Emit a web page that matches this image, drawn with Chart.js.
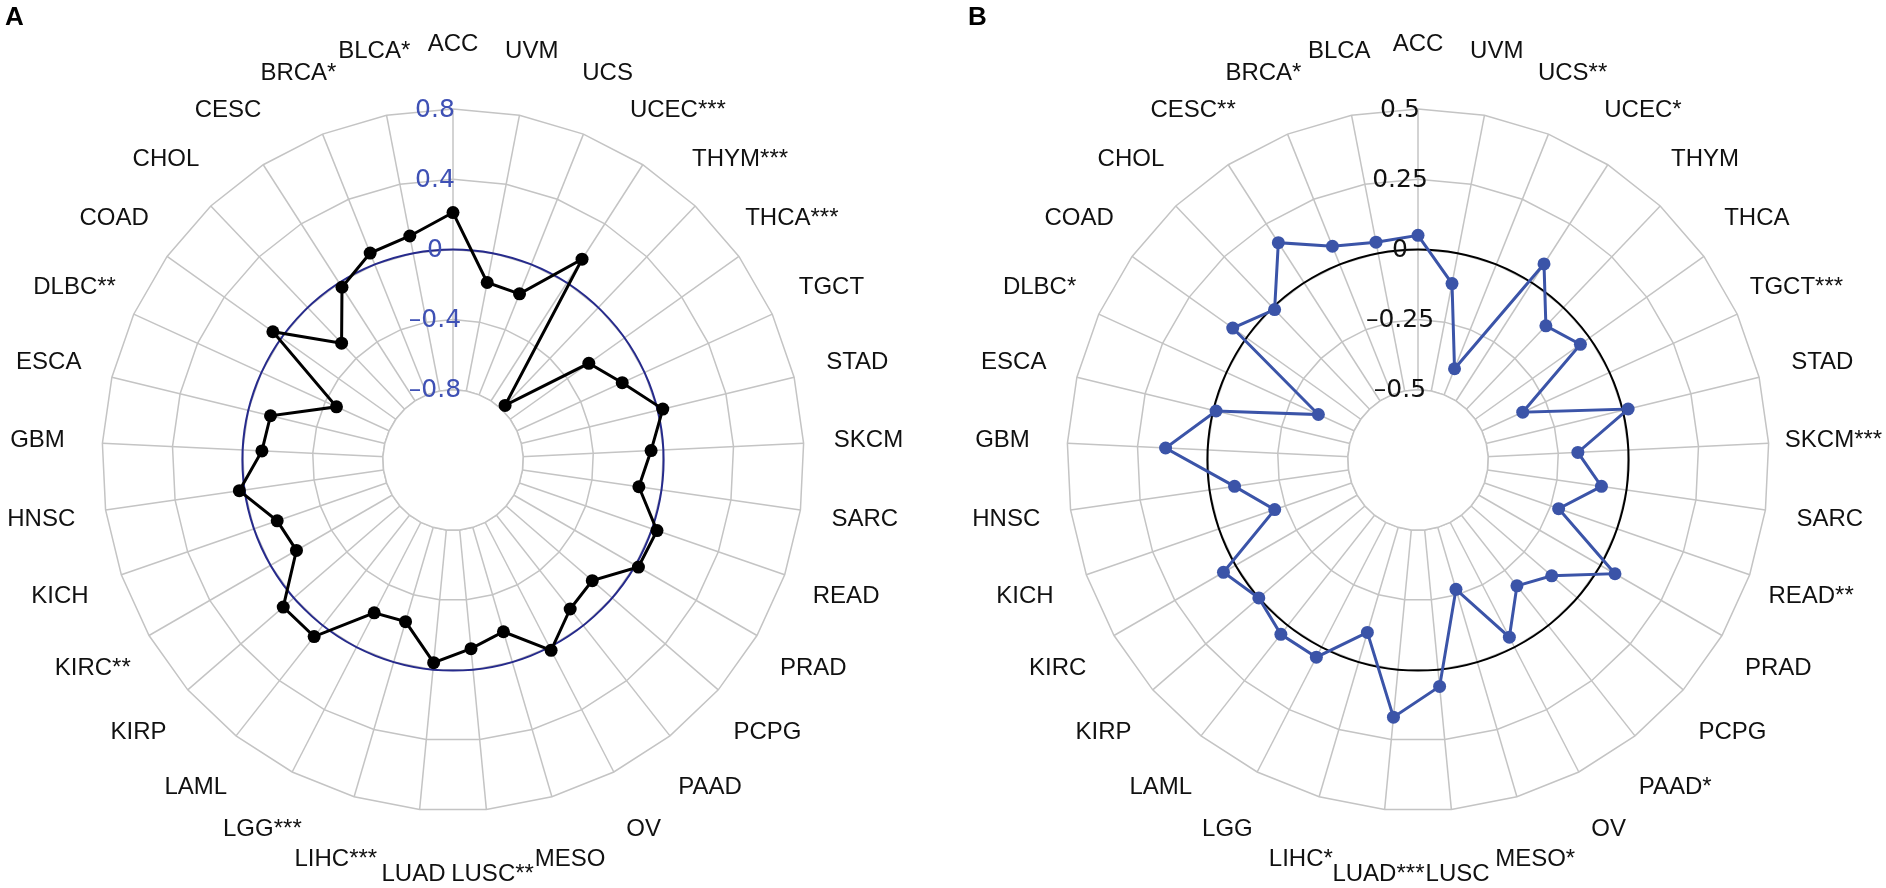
<!DOCTYPE html>
<html>
<head>
<meta charset="utf-8">
<title>Radar panels A / B</title>
<script src="https://cdn.jsdelivr.net/npm/chart.js@4.4.1/dist/chart.umd.min.js"></script>
<style>
  html, body { margin: 0; padding: 0; background: #fff; }
  #wrap { position: relative; width: 1886px; height: 888px; overflow: hidden; }
  .panel { position: absolute; top: 0; width: 943px; height: 888px; }
  .tag { position: absolute; top: 1px; font: bold 26px "Liberation Sans", Arial, sans-serif; color: #000; }
</style>
</head>
<body>
<div id="wrap">
  <div class="panel" style="left:0"><canvas id="chartA" width="943" height="888"></canvas></div>
  <div class="panel" style="left:943px"><canvas id="chartB" width="943" height="888"></canvas></div>
  <div class="tag" style="left:5px">A</div>
  <div class="tag" style="left:968px">B</div>
</div>
<script>
// categories clockwise from the top
const LABELS_A = ["ACC", "UVM", "UCS", "UCEC***", "THYM***", "THCA***", "TGCT", "STAD", "SKCM", "SARC", "READ",
  "PRAD", "PCPG", "PAAD", "OV", "MESO", "LUSC**", "LUAD", "LIHC***", "LGG***", "LAML", "KIRP", "KIRC**",
  "KICH", "HNSC", "GBM", "ESCA", "DLBC**", "COAD", "CHOL", "CESC", "BRCA*", "BLCA*"];
const LABELS_B = ["ACC", "UVM", "UCS**", "UCEC*", "THYM", "THCA", "TGCT***", "STAD", "SKCM***", "SARC", "READ**",
  "PRAD", "PCPG", "PAAD*", "OV", "MESO*", "LUSC", "LUAD***", "LIHC*", "LGG", "LAML", "KIRP", "KIRC",
  "KICH", "HNSC", "GBM", "ESCA", "DLBC*", "COAD", "CHOL", "CESC**", "BRCA*", "BLCA"];

const VALUES_A = [0.21, -0.17, -0.18, 0.16, -0.77, -0.25, -0.14, 0.03, -0.07, -0.13, 0.03,
  0.02, -0.15, -0.12, 0.02, -0.18, -0.12, -0.04, -0.24, -0.22, 0.08, 0.08, -0.17,
  -0.14, 0.03, -0.11, -0.13, -0.47, 0.06, -0.28, -0.03, 0.07, 0.10];
const VALUES_B = [0.05, -0.11, -0.40, 0.08, -0.09, -0.04, -0.34, 0.02, -0.18, -0.09, -0.22,
  0.06, -0.12, -0.18, -0.04, -0.27, 0.06, 0.17, -0.11, 0.04, 0.04, 0.00, 0.05,
  -0.21, -0.09, 0.15, -0.01, -0.36, 0.06, -0.01, 0.17, 0.07, 0.04];

// tick labels; the first one is the edge of the empty centre
const TICKS_A = [-0.8, -0.4, 0, 0.4, 0.8];
const TICKS_B = [-0.5, -0.25, 0, 0.25, 0.5];

const GRID = "#c4c4c4";
const LABEL_FONT = '24px "Liberation Sans", Arial, sans-serif';
const TICK_FONT = '25px "DejaVu Sans", sans-serif';

Chart.defaults.font.family = '"Liberation Sans", Arial, sans-serif';

function fmtTick(v) {
  if (v === 0) return "0";
  return (v < 0 ? "\u2013" : "") + Math.abs(v);
}

// white hole in the middle, the zero circle, category and tick labels
const radarDecor = {
  id: "radarDecor",
  beforeDatasetsDraw(chart, args, opts) {
    const r = chart.scales.r;
    const ctx = chart.ctx;
    const n = chart.data.labels.length;
    const inner = r.getDistanceFromCenterForValue(opts.ticks[0]);
    ctx.save();
    ctx.beginPath();
    for (let i = 0; i < n; i++) {
      const p = r.getPointPosition(i, inner);
      if (i === 0) ctx.moveTo(p.x, p.y); else ctx.lineTo(p.x, p.y);
    }
    ctx.closePath();
    ctx.fillStyle = "#fff";
    ctx.fill();
    ctx.strokeStyle = GRID;
    ctx.lineWidth = 1.5;
    ctx.stroke();

    ctx.beginPath();
    ctx.arc(r.xCenter, r.yCenter, r.getDistanceFromCenterForValue(0), 0, Math.PI * 2);
    ctx.strokeStyle = opts.zeroColor;
    ctx.lineWidth = 2;
    ctx.stroke();

    ctx.font = LABEL_FONT;
    ctx.fillStyle = "#111";
    ctx.textAlign = "center";
    ctx.textBaseline = "middle";
    chart.data.labels.forEach((lab, i) => {
      const p = r.getPointPosition(i, r.drawingArea + 65);
      ctx.fillText(lab, p.x, p.y);
    });
    ctx.restore();
  },
  afterDatasetsDraw(chart, args, opts) {
    const r = chart.scales.r;
    const ctx = chart.ctx;
    ctx.save();
    ctx.font = TICK_FONT;
    ctx.fillStyle = opts.tickColor;
    ctx.textAlign = "center";
    ctx.textBaseline = "middle";
    opts.ticks.forEach((v) => {
      ctx.fillText(fmtTick(v), r.xCenter - 18, r.yCenter - r.getDistanceFromCenterForValue(v) + 1);
    });
    ctx.restore();
  },
};

function radarChart(id, labels, values, ticks, look) {
  const step = ticks[1] - ticks[0];
  return new Chart(document.getElementById(id), {
    type: "radar",
    data: {
      labels,
      datasets: [{
        data: values,
        borderColor: look.line,
        backgroundColor: "transparent",
        pointBackgroundColor: look.line,
        pointBorderWidth: 0,
        pointRadius: 6.5,
        borderWidth: 3,
        fill: false,
        tension: 0,
      }],
    },
    options: {
      responsive: false,
      animation: false,
      events: [],
      layout: { padding: look.padding },
      plugins: {
        legend: { display: false },
        tooltip: { enabled: false },
        radarDecor: { ticks, zeroColor: look.zero, tickColor: look.tick },
      },
      scales: {
        r: {
          min: ticks[0] - step,
          max: ticks[ticks.length - 1],
          ticks: { display: false, stepSize: step },
          pointLabels: { display: false },
          grid: { color: GRID, lineWidth: 1.5, circular: false },
          angleLines: { color: GRID, lineWidth: 1.5 },
        },
      },
    },
    plugins: [radarDecor],
  });
}

radarChart("chartA", LABELS_A, VALUES_A, TICKS_A, {
  line: "#000000", zero: "#262a8c", tick: "#3f51b5",
  padding: { left: 102, right: 139, top: 109, bottom: 77 },
});
radarChart("chartB", LABELS_B, VALUES_B, TICKS_B, {
  line: "#3b54a8", zero: "#000000", tick: "#111111",
  padding: { left: 124, right: 117, top: 109, bottom: 77 },
});
</script>
</body>
</html>
